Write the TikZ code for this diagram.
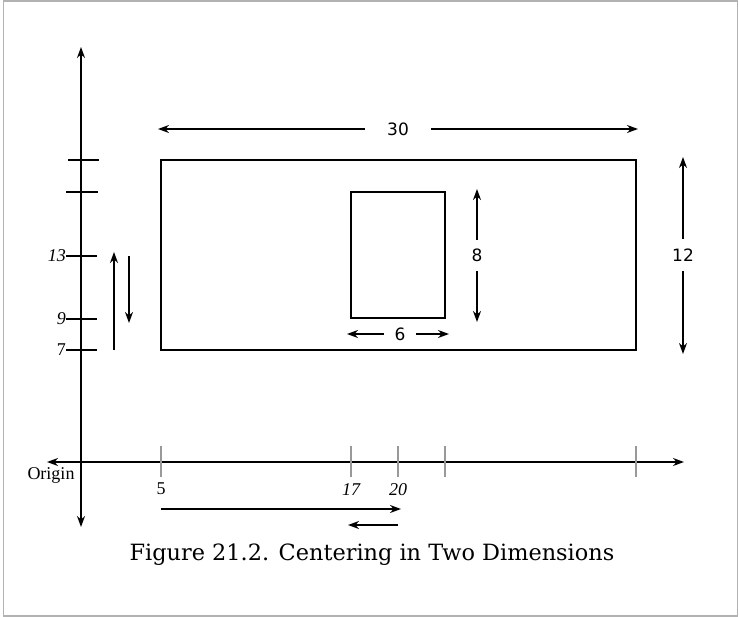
\documentclass[tikz,border=0pt]{standalone}
\usepackage{fontspec}
\setmainfont{Liberation Serif}
\newfontfamily\dvs{DejaVu Sans}
\newfontfamily\capfont{DejaVu Serif}
\usetikzlibrary{arrows.meta}
\begin{document}
\begin{tikzpicture}[x=1pt,y=-1pt,
  ln/.style={line width=1.4pt,black},
  tipend/.style={ln,-{Stealth[length=11pt,width=8pt,inset=3.5pt]}},
  bothtip/.style={ln,{Stealth[length=11pt,width=8pt,inset=3.5pt]}-{Stealth[length=11pt,width=8pt,inset=3.5pt]}},
  xtick/.style={line width=1.1pt,gray!80},
  lab/.style={font=\fontsize{18}{20}\selectfont,inner sep=0pt},
  ilab/.style={font=\fontsize{18}{20}\selectfont\itshape,inner sep=0pt},
  dlab/.style={font=\dvs\fontsize{17}{19}\selectfont,inner sep=0pt}]
\useasboundingbox (0,0) rectangle (739,617);
\draw[gray!60,line width=1.5pt] (3.5,1) rectangle (737.5,616);
% axes
\coordinate (yt) at (81,47); \coordinate (yb) at (81,527);
\coordinate (xl) at (47,462); \coordinate (xr) at (684,462);
\draw[bothtip] (yb) -- (yt);
\draw[bothtip] (xl) -- (xr);
% y ticks
\draw[ln] (68,160) -- (99,160);
\draw[ln] (66,192) -- (98,192);
\node[ilab,anchor=east] (l13) at (66,256) {13};
\draw[ln] (l13.east) -- (97,256);
\node[ilab,anchor=east] (l9) at (66,319) {9};
\draw[ln] (l9.east) -- (97,319);
\node[lab,anchor=east] (l7) at (66,350) {7};
\draw[ln] (l7.east) -- (97,350);
% left arrows
\coordinate (ua) at (114,350); \coordinate (ub) at (114,252);
\draw[tipend] (ua) -- (ub);
\coordinate (da) at (129,256); \coordinate (db) at (129,323);
\draw[tipend] (da) -- (db);
% x ticks
\foreach \x in {161,351,398,445,636} \draw[xtick] (\x,446) -- (\x,477);
\node[lab] (l5) at (161,489) {5};
\node[ilab] (l17) at (351,490) {17};
\node[ilab] (l20) at (398,490) {20};
\node[lab] (orig) at (51,475) {Origin};
% bottom arrows
\coordinate (ra) at (161,509); \coordinate (rb) at (401,509);
\draw[tipend] (ra) -- (rb);
\coordinate (la) at (398,525); \coordinate (lb) at (348,525);
\draw[tipend] (la) -- (lb);
% rectangles
\draw[ln] (161,160) rectangle (636,350);
\draw[ln] (351,192) rectangle (445,318);
% 30
\node[dlab] (t30) at (398,129) {30};
\coordinate (a30l) at (158,129); \coordinate (a30r) at (638,129);
\draw[tipend] (365,129) -- (a30l);
\draw[tipend] (431,129) -- (a30r);
% 8
\node[dlab] (t8) at (477,255) {8};
\coordinate (a8t) at (477,189); \coordinate (a8b) at (477,322);
\draw[tipend] (477,240) -- (a8t);
\draw[tipend] (477,271) -- (a8b);
% 12
\node[dlab] (t12) at (683,255) {12};
\coordinate (a12t) at (683,157); \coordinate (a12b) at (683,354);
\draw[tipend] (683,239) -- (a12t);
\draw[tipend] (683,271) -- (a12b);
% 6
\node[dlab] (t6) at (400,334) {6};
\coordinate (a6l) at (347,334); \coordinate (a6r) at (449,334);
\draw[tipend] (384,334) -- (a6l);
\draw[tipend] (416,334) -- (a6r);
% caption
\node[font=\capfont\fontsize{22.4}{26}\selectfont,inner sep=0pt] (cap) at (372,555) {Figure 21.2. Centering in Two Dimensions};
\end{tikzpicture}
\end{document}
